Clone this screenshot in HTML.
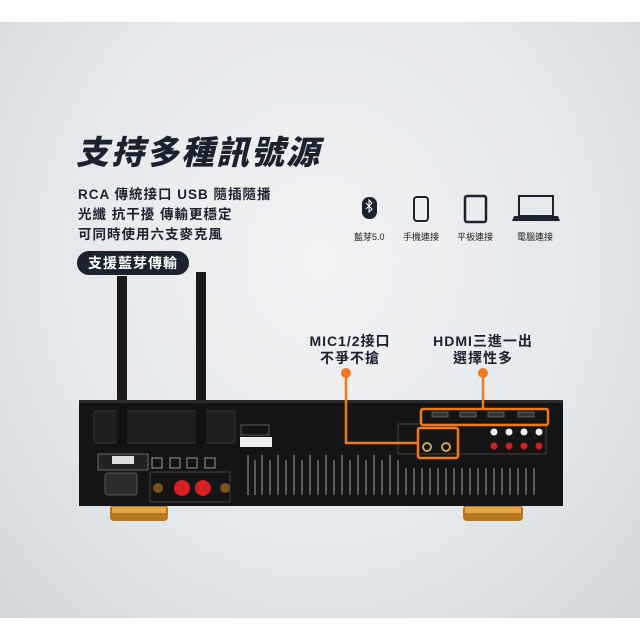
<!DOCTYPE html>
<html><head><meta charset="utf-8"><style>
*{margin:0;padding:0;box-sizing:border-box}
body{width:640px;height:640px;background:#fff;position:relative;overflow:hidden;font-family:"Liberation Sans","Noto Sans CJK TC",sans-serif;color:#1a2230}
.bg{position:absolute;left:0;top:22px;width:640px;height:596px;background:radial-gradient(ellipse at 50% 40%,#f1f2f4 0%,#e6e9ec 55%,#d3d7db 100%)}
.a{position:absolute;white-space:nowrap}
.t{left:76px;top:126px;font-size:33px;font-weight:900;letter-spacing:2px;font-style:italic}
.l{left:78px;font-size:13.5px;font-weight:700;letter-spacing:1px}
.pill{left:77px;top:251px;width:112px;height:24px;border-radius:12px;background:#1b2330;color:#fff;font-size:14px;font-weight:700;text-align:center;line-height:24px;letter-spacing:1px}
.ic{font-size:9px;top:230px;color:#222}
.c{font-size:14px;font-weight:700;text-align:center;letter-spacing:1px;line-height:17px}
</style></head><body>
<div class="bg"></div>
<div class="a t">支持多種訊號源</div>
<div class="a l" style="top:183px">RCA 傳統接口 USB 隨插隨播</div>
<div class="a l" style="top:203px">光纖 抗干擾 傳輸更穩定</div>
<div class="a l" style="top:223px">可同時使用六支麥克風</div>
<svg class="a" style="left:0;top:0" width="640" height="640">
<rect x="362" y="197" width="15" height="22" rx="7" fill="#1b2330"/>
<path d="M366 203l6 6-3 3v-12l3 3-6 6" stroke="#fff" stroke-width="1" fill="none"/>
<rect x="414" y="197" width="14" height="24" rx="3" fill="none" stroke="#1b2330" stroke-width="2"/>
<rect x="465" y="196" width="21" height="26" rx="2" fill="none" stroke="#1b2330" stroke-width="2.5"/>
<rect x="519" y="196" width="34" height="20" fill="none" stroke="#1b2330" stroke-width="2"/>
<path d="M514 216h44l2 5h-48z" fill="#1b2330"/>
<rect x="117" y="276" width="10" height="166" fill="#1a1a1a"/>
<rect x="196" y="272" width="10" height="170" fill="#1a1a1a"/>
<rect x="110" y="505" width="58" height="16" rx="4" fill="#b8761d"/>
<rect x="112" y="507" width="54" height="6" fill="#e6a548"/>
<rect x="463" y="505" width="60" height="16" rx="4" fill="#b8761d"/>
<rect x="465" y="507" width="56" height="6" fill="#e6a548"/>
<rect x="79" y="400" width="484" height="106" fill="#141414"/>
<rect x="79" y="400" width="484" height="3" fill="#2a2a2a"/>
<rect x="94" y="411" width="141" height="32" rx="3" fill="#1e1e1e" stroke="#333"/>
<rect x="117" y="405" width="10" height="40" fill="#111"/>
<rect x="196" y="405" width="10" height="40" fill="#111"/>
<rect x="98" y="454" width="50" height="16" fill="#222" stroke="#888" stroke-width=".7"/>
<rect x="112" y="456" width="22" height="8" fill="#ddd"/>
<rect x="105" y="473" width="32" height="22" rx="3" fill="#2c2c2c" stroke="#555"/>
<rect x="152" y="458" width="10" height="10" fill="none" stroke="#999"/>
<rect x="170" y="458" width="10" height="10" fill="none" stroke="#999"/>
<rect x="187" y="458" width="10" height="10" fill="none" stroke="#999"/>
<rect x="205" y="458" width="10" height="10" fill="none" stroke="#999"/>
<rect x="150" y="472" width="80" height="30" fill="none" stroke="#555" stroke-width=".7"/>
<circle cx="158" cy="488" r="5" fill="#7a5020"/>
<circle cx="182" cy="488" r="8" fill="#d42020"/>
<circle cx="203" cy="488" r="8" fill="#d42020"/>
<circle cx="225" cy="488" r="5" fill="#7a5020"/>
<rect x="241" y="425" width="28" height="10" fill="none" stroke="#888" stroke-width=".6"/>
<rect x="240" y="437" width="32" height="10" fill="#eee"/>
<g stroke="#888" stroke-width="1.2">
<path d="M248 455v40M255 460v35M262 455v40M270 460v35M278 455v40M286 460v35M294 455v40M302 460v35M310 455v40M318 460v35M326 455v40M334 460v35M342 455v40M350 460v35M358 455v40M366 460v35M374 455v40M382 460v35M390 455v40M398 460v35M406 468v27M414 468v27M422 468v27M430 468v27M438 468v27M446 468v27M454 468v27M462 468v27M470 468v27M478 468v27M486 468v27M494 468v27M502 468v27M510 468v27M518 468v27M526 468v27M534 468v27"/>
</g>
<rect x="398" y="424" width="148" height="30" fill="none" stroke="#555" stroke-width=".7"/>
<circle cx="427" cy="447" r="4" fill="#111" stroke="#c9a35a" stroke-width="2"/>
<circle cx="446" cy="447" r="4" fill="#111" stroke="#c9a35a" stroke-width="2"/>
<g fill="#eee"><circle cx="494" cy="432" r="3.5"/><circle cx="509" cy="432" r="3.5"/><circle cx="524" cy="432" r="3.5"/><circle cx="539" cy="432" r="3.5"/></g>
<g fill="#d42020"><circle cx="494" cy="446" r="3.5"/><circle cx="509" cy="446" r="3.5"/><circle cx="524" cy="446" r="3.5"/><circle cx="539" cy="446" r="3.5"/></g>
<g fill="#333" stroke="#888" stroke-width=".6"><rect x="432" y="412" width="16" height="5"/><rect x="460" y="412" width="16" height="5"/><rect x="488" y="412" width="16" height="5"/><rect x="518" y="412" width="16" height="5"/></g>
<g stroke="#ee7a1f" stroke-width="2.5" fill="none">
<path d="M346 372V443H418"/>
<rect x="418" y="428" width="40" height="30" rx="2"/>
<path d="M483 372V409"/>
<rect x="421" y="409" width="127" height="16" rx="2"/>
</g>
<circle cx="346" cy="373" r="5" fill="#ee7a1f"/>
<circle cx="483" cy="373" r="5" fill="#ee7a1f"/>
</svg>
<div class="a pill">支援藍芽傳輸</div>
<div class="a ic" style="left:354px">藍芽5.0</div>
<div class="a ic" style="left:403px">手機連接</div>
<div class="a ic" style="left:457px">平板連接</div>
<div class="a ic" style="left:517px">電腦連接</div>
<div class="a c" style="left:300px;top:333px;width:100px">MIC1/2接口<br>不爭不搶</div>
<div class="a c" style="left:425px;top:333px;width:116px">HDMI三進一出<br>選擇性多</div>
</body></html>
